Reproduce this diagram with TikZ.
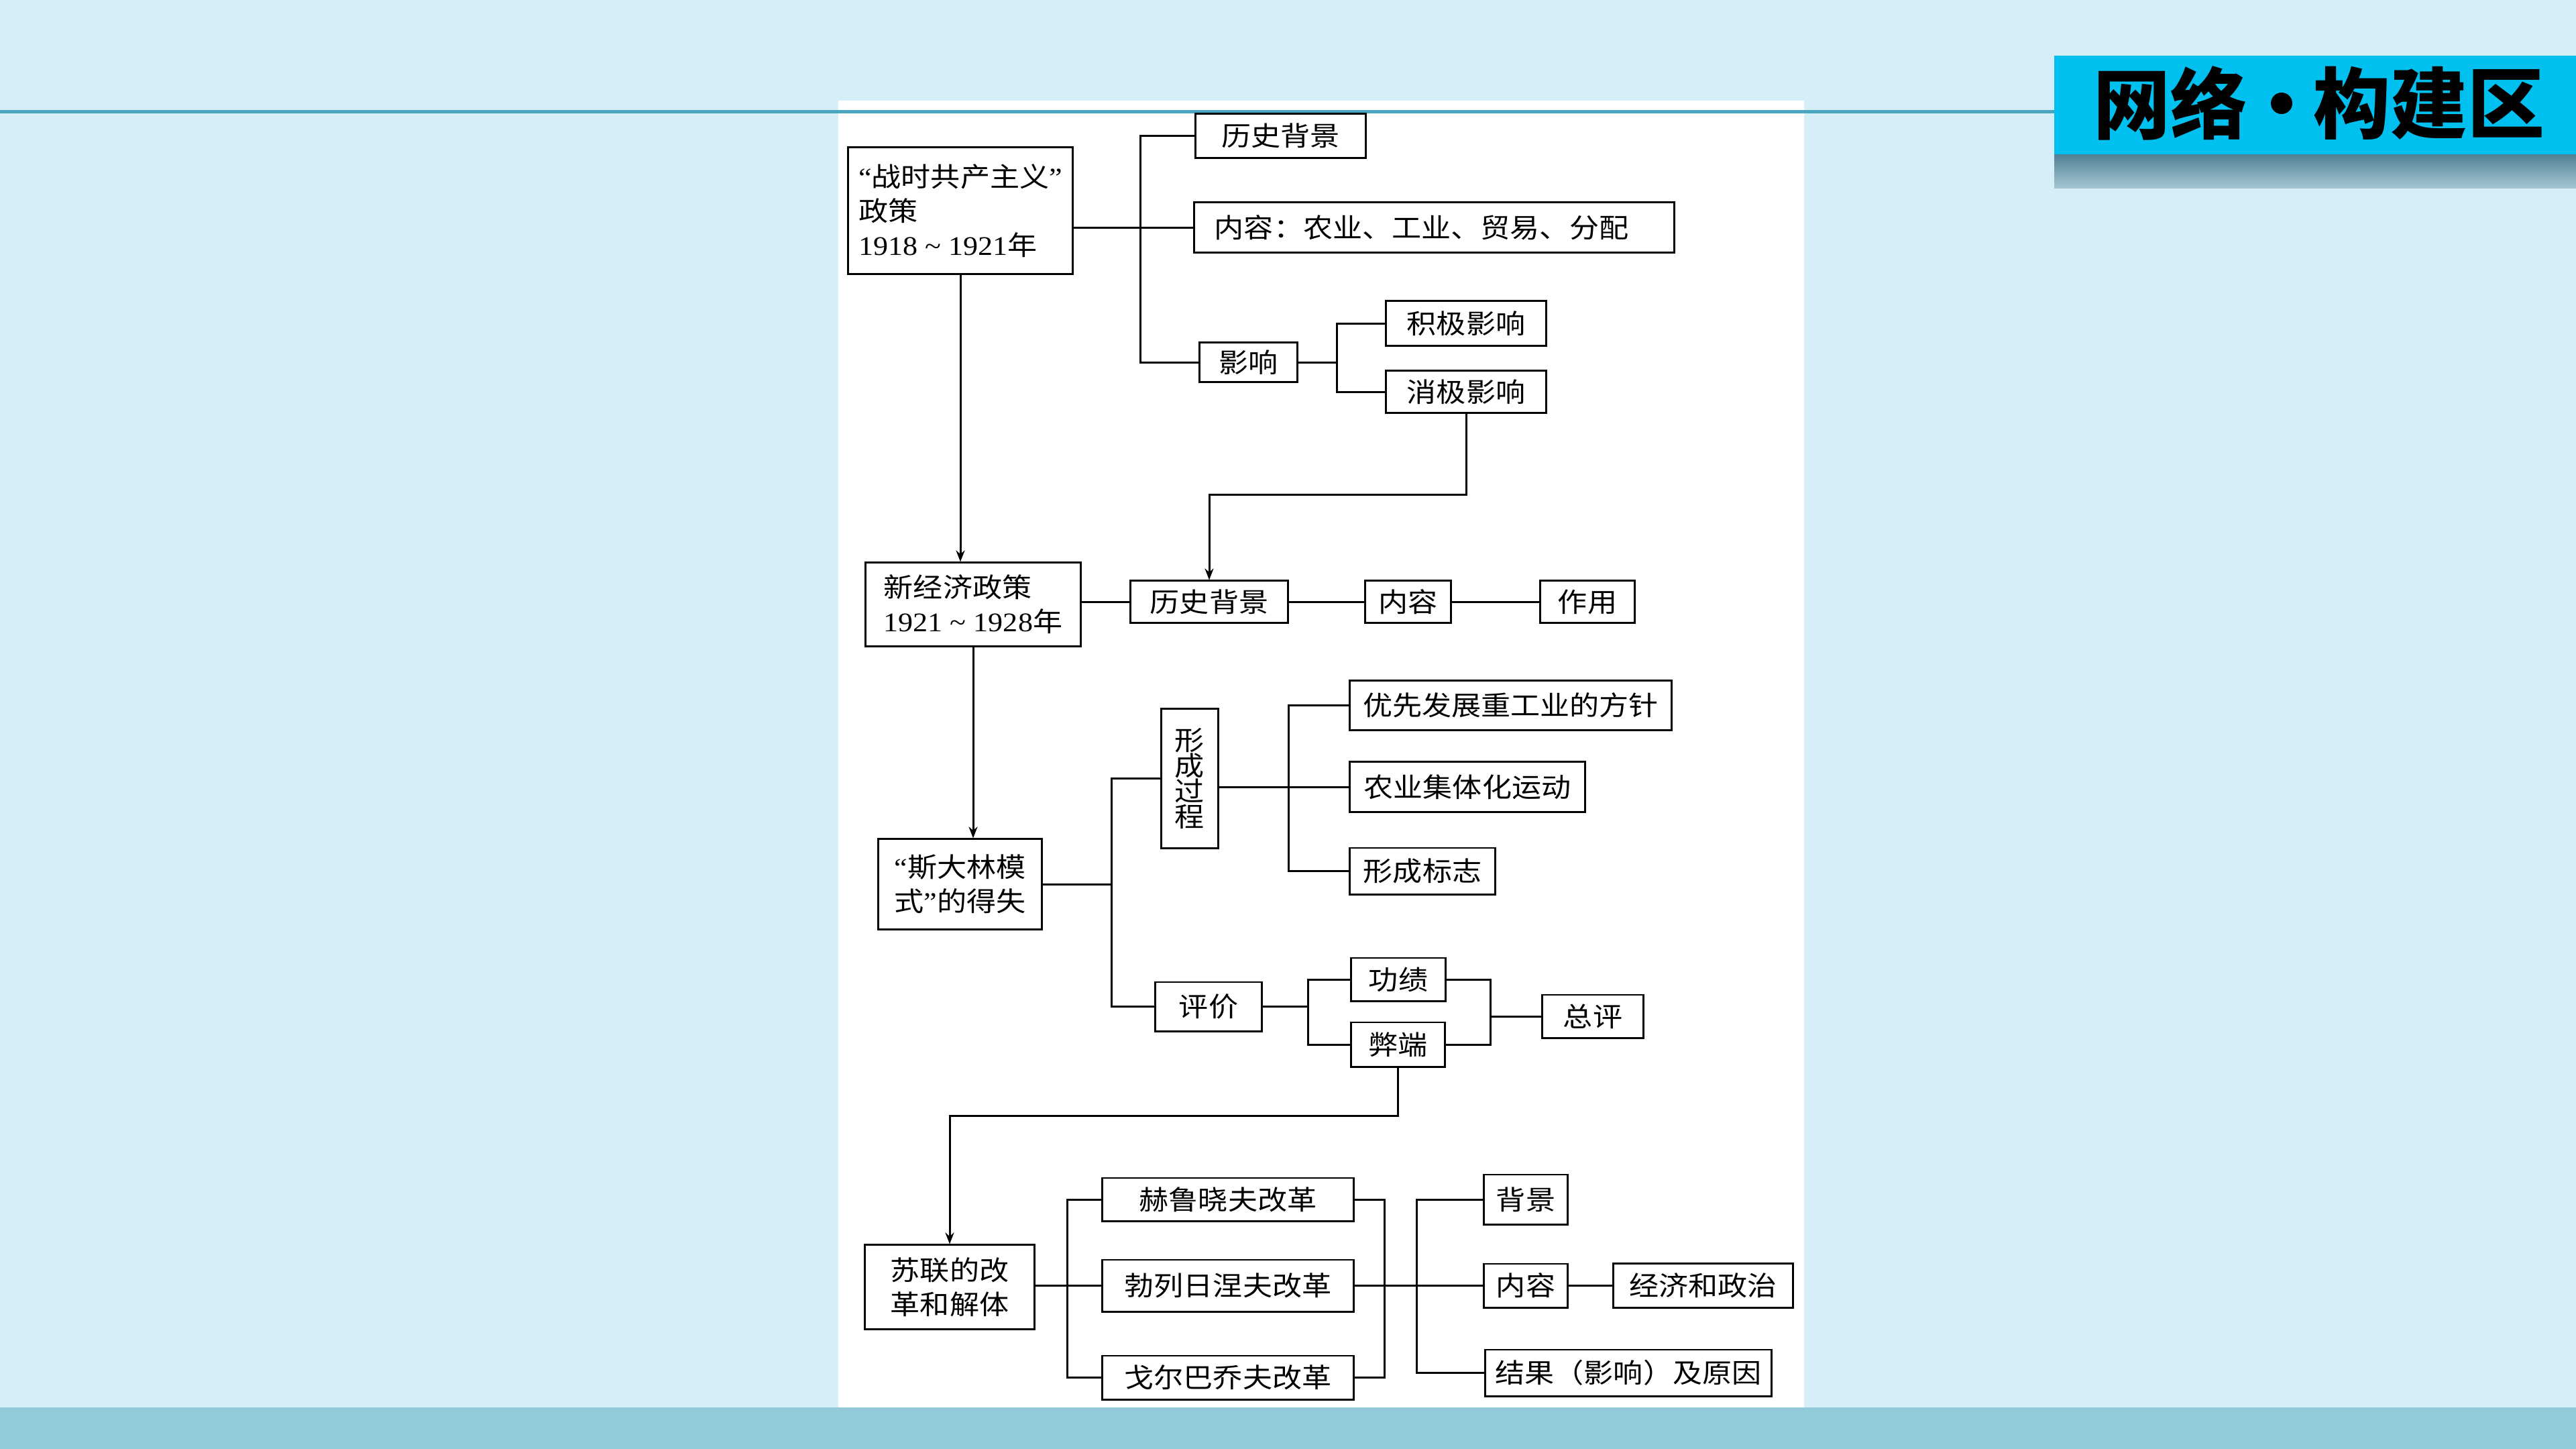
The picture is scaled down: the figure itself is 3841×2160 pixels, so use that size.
\documentclass[tikz,border=0pt]{standalone}
\usepackage{fontspec}
\setmainfont[FakeStretch=1.1]{Liberation Serif}
\newfontfamily\cjk[FakeStretch=1.1]{Noto Sans CJK SC}
\newfontfamily\cjkt{Noto Sans CJK SC}
\usetikzlibrary{arrows.meta,calc}
\definecolor{bgblue}{RGB}{214,238,248}
\definecolor{linetop}{RGB}{74,166,191}
\definecolor{band}{RGB}{147,202,219}
\definecolor{titlecyan}{RGB}{0,192,240}
\definecolor{shadetop}{RGB}{78,128,148}
\definecolor{shadebot}{RGB}{165,198,210}
\begin{document}
\begin{tikzpicture}[x=0.01cm,y=-0.01cm,
  box/.style={draw=black,line width=0.85pt,fill=white,inner sep=0pt,
    font=\cjk\fontsize{11.4}{14.5}\selectfont},
  conn/.style={line width=0.85pt,draw=black},
  arr/.style={conn,-{Stealth[length=0.17cm,width=0.13cm]}},
  ttl/.style={font=\cjkt\bfseries\fontsize{32.7}{33}\selectfont,inner sep=0pt}
]
\useasboundingbox (0,0) rectangle (3841,2160);
\fill[bgblue] (0,0) rectangle (3841,2160);
\fill[band] (0,2098) rectangle (3841,2160);
\fill[white] (1250,150) rectangle (2690,2098);
\draw[linetop,line width=1.42pt] (0,166) -- (3063,166);
% title
\shade[top color=shadetop,bottom color=shadebot] (3063,229) rectangle (3841,280);
\fill[titlecyan] (3063,83) rectangle (3841,230);
\node[ttl] (t1) at (3236,154) {网络};
\fill (3402,154) circle (0.16cm);
\node[ttl] (t2) at (3622,154) {构建区};
% block 1
\node[box,minimum width=3.34cm,minimum height=1.88cm,align=left] (A) at (1432,314)
  {{\rmfamily “}战时共产主义{\rmfamily ”}\\政策\\{\rmfamily 1918 \textasciitilde{} 1921}年};
\node[box,minimum width=2.53cm,minimum height=0.65cm] (B1) at (1909.5,202.5) {历史背景};
\node[box,minimum width=7.15cm,minimum height=0.74cm,text width=6.55cm,align=left] (B2) at (2138.5,339) {内容：农业、工业、贸易、分配};
\node[box,minimum width=1.45cm,minimum height=0.58cm] (B3) at (1861.5,540) {影响};
\node[box,minimum width=2.38cm,minimum height=0.66cm] (B4) at (2186,482) {积极影响};
\node[box,minimum width=2.38cm,minimum height=0.62cm] (B5) at (2186,584) {消极影响};
% block 2
\node[box,minimum width=3.20cm,minimum height=1.24cm,align=left] (C) at (1451,901)
  {新经济政策\\{\rmfamily 1921 \textasciitilde{} 1928}年};
\node[box,minimum width=2.34cm,minimum height=0.62cm] (C1) at (1803,897) {历史背景};
\node[box,minimum width=1.27cm,minimum height=0.62cm] (C2) at (2099.5,897) {内容};
\node[box,minimum width=1.40cm,minimum height=0.62cm] (C3) at (2367,897) {作用};
% block 3
\node[box,minimum width=2.43cm,minimum height=1.34cm,align=right] (D) at (1431.5,1318)
  {{\rmfamily “}斯大林模\\式{\rmfamily ”}的得失};
\node[box,minimum width=0.84cm,minimum height=2.07cm,align=center,
  font=\cjk\fontsize{11.4}{10.8}\selectfont] (E) at (1774,1160.5) {形\\成\\过\\程};
\node[box,minimum width=4.79cm,minimum height=0.73cm] (E1) at (2252.5,1051.5) {优先发展重工业的方针};
\node[box,minimum width=3.50cm,minimum height=0.74cm] (E2) at (2188,1173) {农业集体化运动};
\node[box,minimum width=2.16cm,minimum height=0.69cm] (E3) at (2121,1298.5) {形成标志};
\node[box,minimum width=1.58cm,minimum height=0.73cm] (F) at (1802,1500.5) {评价};
\node[box,minimum width=1.40cm,minimum height=0.64cm] (F1) at (2085,1460) {功绩};
\node[box,minimum width=1.39cm,minimum height=0.66cm] (F2) at (2084.5,1557) {弊端};
\node[box,minimum width=1.50cm,minimum height=0.64cm] (F3) at (2375,1515) {总评};
% block 4
\node[box,minimum width=2.52cm,minimum height=1.25cm,align=center] (G) at (1416,1918.5)
  {苏联的改\\革和解体};
\node[box,minimum width=3.74cm,minimum height=0.64cm] (H1) at (1831,1788) {赫鲁晓夫改革};
\node[box,minimum width=3.74cm,minimum height=0.77cm] (H2) at (1831,1916.5) {勃列日涅夫改革};
\node[box,minimum width=3.74cm,minimum height=0.65cm] (H3) at (1831,2053.5) {戈尔巴乔夫改革};
\node[box,minimum width=1.24cm,minimum height=0.74cm] (I1) at (2275,1788) {背景};
\node[box,minimum width=1.24cm,minimum height=0.65cm] (I2) at (2275,1916.5) {内容};
\node[box,minimum width=2.67cm,minimum height=0.66cm] (I3) at (2539.5,1916.5) {经济和政治};
\node[box,minimum width=4.26cm,minimum height=0.69cm] (I4) at (2428,2046.5) {结果（影响）及原因};
% connectors block 1
\coordinate (v1) at (1700,0);
\coordinate (v2) at (1993,0);
\coordinate (k1) at (0,737);
\draw[conn] (A.east |- B2.west) -- (B2.west);
\draw[conn] (B1.west) -- (B1.west -| v1) -- (B3.west -| v1) -- (B3.west);
\draw[conn] (B3.east) -- (B3.east -| v2);
\draw[conn] (B4.west) -- (B4.west -| v2) -- (B5.west -| v2) -- (B5.west);
\draw[arr] (B5.south) -- (B5.south |- k1) -- (C1.north |- k1) -- (C1.north);
\draw[arr] (A.south) -- (A.south |- C.north);
% block 2
\draw[conn] (C.east |- C1.west) -- (C1.west);
\draw[conn] (C1.east) -- (C2.west);
\draw[conn] (C2.east) -- (C3.west);
\draw[arr] (C.south) -- (C.south |- D.north);
% block 3
\coordinate (v3) at (1657,0);
\coordinate (v4) at (1921,0);
\coordinate (v5) at (1950,0);
\coordinate (v6) at (2222,0);
\coordinate (k2) at (0,1663);
\draw[conn] (D.east) -- (D.east -| v3);
\draw[conn] (E.west) -- (E.west -| v3) -- (F.west -| v3) -- (F.west);
\draw[conn] (E.east |- E2.west) -- (E2.west);
\draw[conn] (E1.west) -- (E1.west -| v4) -- (E3.west -| v4) -- (E3.west);
\draw[conn] (F.east) -- (F.east -| v5);
\draw[conn] (F1.west) -- (F1.west -| v5) -- (F2.west -| v5) -- (F2.west);
\draw[conn] (F1.east) -- (F1.east -| v6) -- (F2.east -| v6) -- (F2.east);
\draw[conn] (F3.west -| v6) -- (F3.west);
\draw[arr] (F2.south) -- (F2.south |- k2) -- (G.north |- k2) -- (G.north);
% block 4
\coordinate (v7) at (1591,0);
\coordinate (v8) at (2064,0);
\coordinate (v9) at (2112,0);
\draw[conn] (G.east |- H2.west) -- (H2.west);
\draw[conn] (H1.west) -- (H1.west -| v7) -- (H3.west -| v7) -- (H3.west);
\draw[conn] (H1.east) -- (H1.east -| v8) -- (H3.east -| v8) -- (H3.east);
\draw[conn] (H2.east) -- (I2.west);
\draw[conn] (I1.west) -- (I1.west -| v9) -- (I4.west -| v9) -- (I4.west);
\draw[conn] (I2.east) -- (I3.west);
\end{tikzpicture}
\end{document}
